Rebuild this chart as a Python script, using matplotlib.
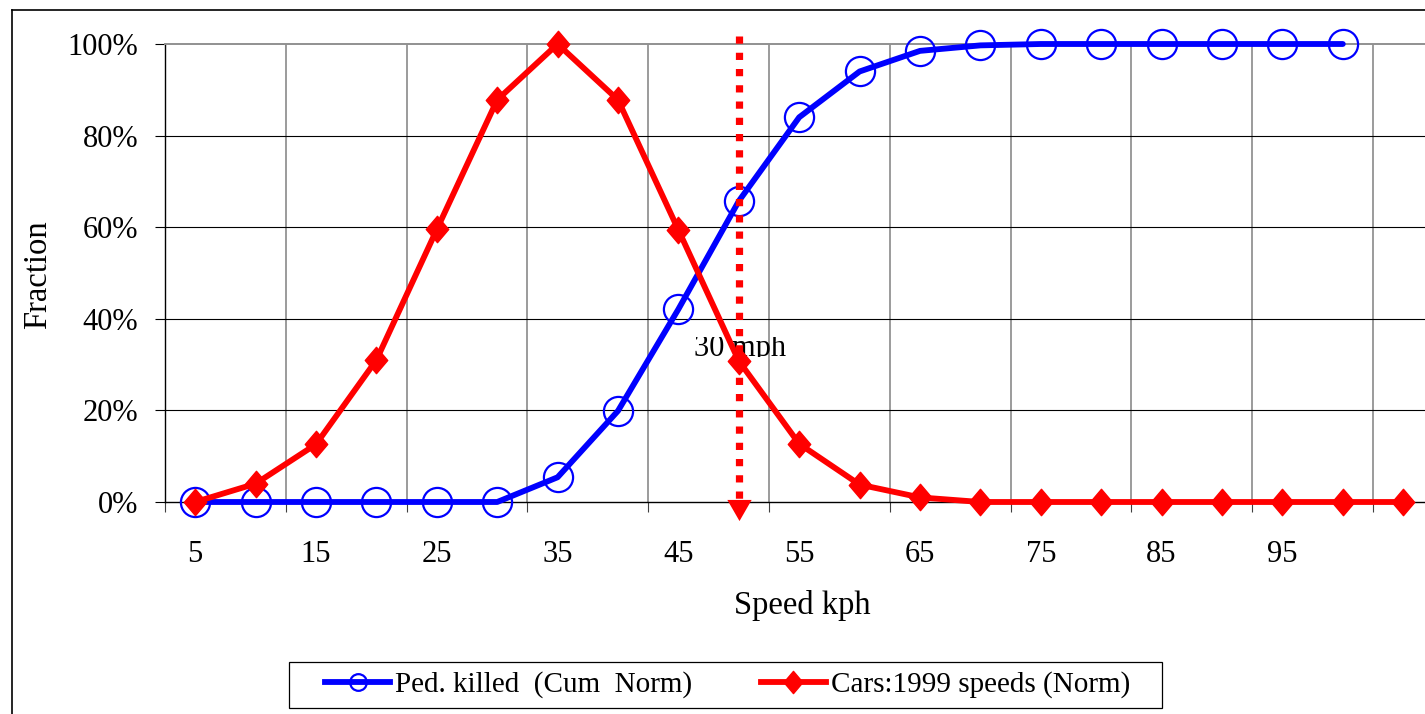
import matplotlib
matplotlib.use("Agg")
import matplotlib.pyplot as plt
from matplotlib.lines import Line2D
from matplotlib.patches import Rectangle
from matplotlib.path import Path
from matplotlib.transforms import Bbox
import numpy as np

plt.rcParams['font.family'] = ['Liberation Serif', 'DejaVu Serif']

# ---------------- data ----------------
speeds = [5, 10, 15, 20, 25, 30, 35, 40, 45, 50, 55, 60, 65, 70, 75, 80, 85, 90, 95, 100, 105]
speed_labels = ['5', '', '15', '', '25', '', '35', '', '45', '', '55', '', '65', '',
                '75', '', '85', '', '95', '', '']
ped_killed = [0.0, 0.0, 0.0, 0.0, 0.0, 0.0, 0.054, 0.199, 0.421, 0.657, 0.840, 0.940,
              0.985, 0.997, 1.0, 1.0, 1.0, 1.0, 1.0, 1.0]
cars_1999 = [0.0, 0.040, 0.126, 0.310, 0.595, 0.878, 1.0, 0.878, 0.594, 0.308, 0.127,
             0.038, 0.010, 0.0, 0.0, 0.0, 0.0, 0.0, 0.0, 0.0, 0.0]
marker_speed = 50
marker_text = '30 mph'
ytick_vals = [0.0, 0.2, 0.4, 0.6, 0.8, 1.0]
ytick_labels = ['0%', '20%', '40%', '60%', '80%', '100%']
series_names = ['Ped. killed  (Cum  Norm)', 'Cars:1999 speeds (Norm)']

W, H = 1425, 714
fig = plt.figure(figsize=(W / 100, H / 100), dpi=100)

x_left, x_right = 165, 1433.4
y_bot, y_top = 502, 44
ax = fig.add_axes([x_left / W, (H - y_bot) / H, (x_right - x_left) / W, (y_bot - y_top) / H])

idx = np.arange(len(speeds))
ax.set_xlim(-0.5, len(speeds) - 0.5)
ax.set_ylim(0, 1)

# grid
for g in np.arange(-0.5, len(speeds), 2)[1:]:
    ax.axvline(g, color='#808080', lw=1.1, zorder=1)
for v in ytick_vals[1:-1]:
    ax.axhline(v, color='black', lw=0.8, zorder=1)

ax.spines['right'].set_visible(False)
ax.spines['top'].set_color('#909090')
ax.spines['top'].set_linewidth(1.4)
ax.spines['left'].set_linewidth(1.0)
ax.spines['bottom'].set_linewidth(1.0)

ax.set_yticks(ytick_vals)
ax.set_yticklabels(ytick_labels)
ax.tick_params(axis='y', direction='out', length=7.2, width=0.8, pad=12, labelsize=22)

ax.set_xticks(idx)
ax.set_xticklabels(speed_labels)
ax.tick_params(axis='x', length=0, pad=27, labelsize=22)
ax.set_xticks(np.arange(-0.5, len(speeds), 2), minor=True)
ax.tick_params(axis='x', which='minor', direction='out', length=7.2, width=0.8, color='#404040')

# text label (clipped like the original)
xi = speeds.index(marker_speed)
t = ax.text(xi + 0.02, (y_bot - 356) / (y_bot - y_top), marker_text, ha='center', va='baseline',
            fontsize=22, zorder=2)
t.set_clip_box(Bbox.from_extents(0, H - 357, W, H - 337))
t.set_clip_on(True)

# series
ax.plot(idx[:len(ped_killed)], ped_killed, color='#0000ff', lw=4.2, marker='o', ms=21,
        mfc='none', mec='#0000ff', mew=1.6, zorder=3, clip_on=False, solid_capstyle='round')
diamond = Path([(0, 1), (0.85, 0), (0, -1), (-0.85, 0), (0, 1)],
               [Path.MOVETO, Path.LINETO, Path.LINETO, Path.LINETO, Path.CLOSEPOLY])
ax.plot(idx, cars_1999, color='#ff0000', lw=4.2, marker=diamond, ms=19,
        mfc='#ff0000', mec='#ff0000', zorder=4, clip_on=False)

# dotted arrow
y_start = (y_bot - 36) / (y_bot - y_top)
y_end = (y_bot - 500) / (y_bot - y_top)
ax.plot([xi, xi], [y_start, y_end], color='#ff0000', lw=5.2, dashes=(1.0, 1.25),
        dash_capstyle='butt', zorder=5, clip_on=False)
tri = Path([(-11.5, 10), (11.5, 10), (0, -10), (-11.5, 10)],
           [Path.MOVETO, Path.LINETO, Path.LINETO, Path.CLOSEPOLY])
ax.plot([xi], [(y_bot - 510) / (y_bot - y_top)], marker=tri, ms=17.5, color='#ff0000',
        mec='none', zorder=5, clip_on=False)

# axis titles
fig.text(38 / W, 1 - 275 / H, 'Fraction', rotation=90, ha='center', va='center', fontsize=23.5)
fig.text(802 / W, 1 - 614 / H, 'Speed kph', ha='center', va='baseline', fontsize=23.5)

# legend
fs_leg = 21
h1 = Line2D([], [], color='#0000ff', lw=4.2, marker='o', ms=12, mfc='none', mec='#0000ff', mew=1.6)
h2 = Line2D([], [], color='#ff0000', lw=4.2, marker=diamond, ms=16, mfc='#ff0000', mec='#ff0000')
leg = fig.legend([h1, h2], series_names, loc='center left', bbox_to_anchor=(325 / W, 1 - 685 / H),
                 ncol=2, frameon=False, fontsize=fs_leg, handlelength=2.23, handletextpad=0.17,
                 columnspacing=2.36, borderpad=0.0, borderaxespad=0.0)
fig.patches.append(Rectangle((289 / W, 1 - 708 / H), (1162 - 289) / W, (708 - 662) / H,
                             transform=fig.transFigure, fill=False, ec='black', lw=0.9))

# outer chart border
fig.add_artist(Line2D([12 / W, 1.0], [1 - 10 / H, 1 - 10 / H], transform=fig.transFigure,
                      color='black', lw=1.2))
fig.add_artist(Line2D([12 / W, 12 / W], [0, 1 - 10 / H], transform=fig.transFigure,
                      color='black', lw=1.2))

fig.savefig('out.png', dpi=100)
